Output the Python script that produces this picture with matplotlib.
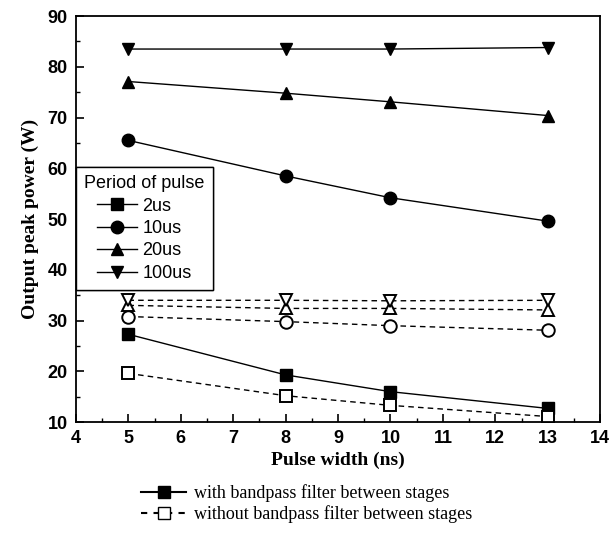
import matplotlib.pyplot as plt
from matplotlib.lines import Line2D
from matplotlib.ticker import MultipleLocator

# Datos
pulse_width = [5, 8, 10, 13]
periods = ['2us', '10us', '20us', '100us']
markers = ['s', 'o', '^', 'v']

with_filter = {
    '2us': [27.3, 19.3, 16.0, 12.7],
    '10us': [65.5, 58.5, 54.2, 49.6],
    '20us': [77.1, 74.8, 73.1, 70.4],
    '100us': [83.5, 83.5, 83.5, 83.8],
}
without_filter = {
    '2us': [19.6, 15.2, 13.3, 11.1],
    '10us': [30.8, 29.8, 29.0, 28.1],
    '20us': [33.0, 32.4, 32.4, 32.1],
    '100us': [34.0, 34.0, 33.9, 34.0],
}

fig = plt.figure(figsize=(6.13, 5.35), dpi=100)
ax = fig.add_axes([0.124, 0.211, 0.855, 0.759])

handles = []
for per, mk in zip(periods, markers):
    h, = ax.plot(pulse_width, with_filter[per], color='black', linestyle='-',
                 linewidth=1.0, marker=mk, markersize=9, markerfacecolor='black',
                 label=per)
    handles.append(h)
    ax.plot(pulse_width, without_filter[per], color='black', linestyle='--',
            linewidth=1.0, marker=mk, markersize=9, markerfacecolor='white',
            markeredgewidth=1.4, dashes=(4, 3))

ax.set_xlim(4, 14)
ax.set_ylim(10, 90)
ax.xaxis.set_major_locator(MultipleLocator(1))
ax.xaxis.set_minor_locator(MultipleLocator(0.5))
ax.yaxis.set_major_locator(MultipleLocator(10))
ax.yaxis.set_minor_locator(MultipleLocator(5))
ax.tick_params(which='both', direction='in', top=False, right=False)
ax.tick_params(which='major', length=6, width=1.2, labelsize=13, pad=6)
ax.tick_params(which='minor', length=3, width=1.0)
for lab in ax.get_xticklabels() + ax.get_yticklabels():
    lab.set_fontweight('bold')
    lab.set_family('Liberation Sans')
for sp in ax.spines.values():
    sp.set_linewidth(1.3)

ax.set_xlabel('Pulse width (ns)', fontsize=14, fontweight='bold',
              family='Liberation Serif', labelpad=3)
ax.set_ylabel('Output peak power (W)', fontsize=14, fontweight='bold',
              family='Liberation Serif', labelpad=6)

# Leyenda de periodos dentro del grafico
leg = ax.legend(handles=handles, title='Period of pulse', loc='upper left',
                bbox_to_anchor=(0.0, 0.628), fancybox=False, edgecolor='black',
                framealpha=1, prop={'family': 'Liberation Sans', 'size': 13},
                title_fontproperties={'family': 'Liberation Sans', 'size': 13},
                handlelength=2.2, handletextpad=0.3, labelspacing=0.3,
                borderpad=0.45, borderaxespad=0.0)
leg.get_frame().set_linewidth(1.0)
ax.add_artist(leg)

# Leyenda de filtro debajo del eje
h1 = Line2D([], [], color='black', linestyle='-', marker='s', markersize=8,
            markerfacecolor='black')
h2 = Line2D([], [], color='black', linestyle='--', marker='s', markersize=8,
            markerfacecolor='white', dashes=(3, 3))
fig.legend([h1, h2], ['with bandpass filter between stages',
                      'without bandpass filter between stages'],
           loc='upper center', bbox_to_anchor=(0.5, 0.125), frameon=False,
           prop={'family': 'Liberation Serif', 'size': 13},
           handlelength=2.5, handletextpad=0.4, labelspacing=0.15)

fig.savefig('out.png', dpi=100)
